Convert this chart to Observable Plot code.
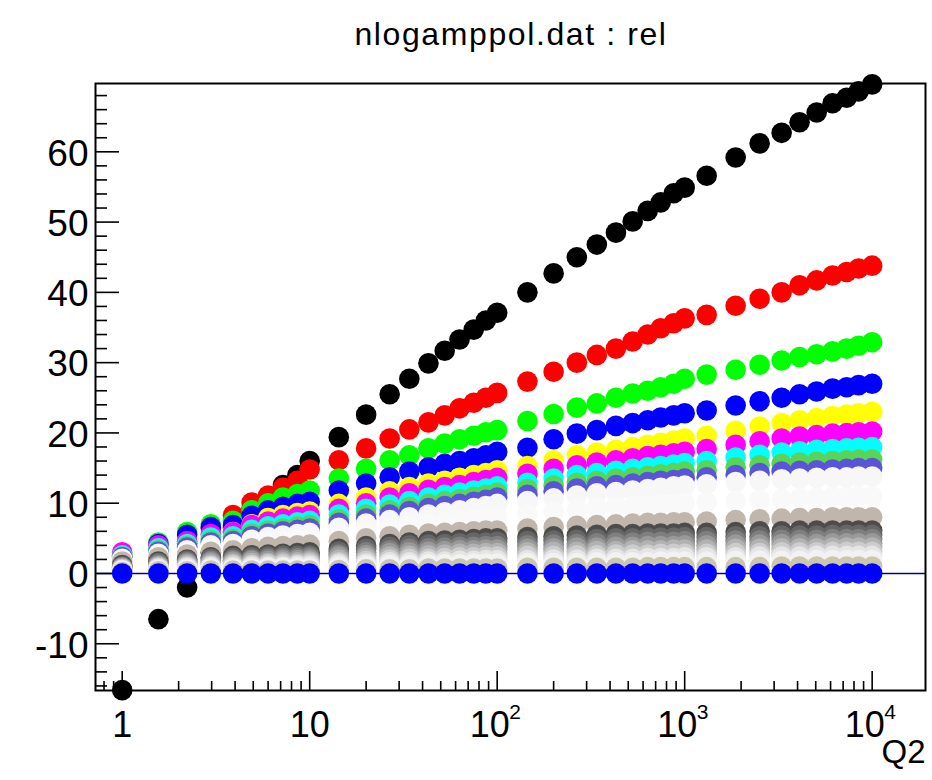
<!DOCTYPE html>
<html><head><meta charset="utf-8">
<script src="https://cdn.jsdelivr.net/npm/d3@7"></script>
<script src="https://cdn.jsdelivr.net/npm/@observablehq/plot@0.6"></script>
<style>
body{margin:0;background:#fff;font-family:"Liberation Sans",Arial,sans-serif;}
#wrap{position:relative;width:932px;height:780px;overflow:hidden;}
#title{position:absolute;left:511px;top:18px;transform:translateX(-50%);font-size:32px;letter-spacing:1.6px;line-height:32px;white-space:nowrap;color:#000;}
#chart{position:absolute;left:0;top:60px;}
</style>
</head><body>
<div id="wrap"><div id="title">nlogamppol.dat : rel</div><div id="chart"></div></div>
<script>
// Q2 grid
const q2 = [1, 1.56, 2.22, 2.97, 3.9, 4.9, 6.0, 7.2, 8.6, 10,
  14.3, 20, 26.7, 34, 43, 52.5, 63, 75, 87, 100,
  145, 200, 266, 340, 430, 528, 635, 745, 874, 1000,
  1310, 1870, 2510, 3290, 4100, 5060, 6150, 7310, 8470, 10000];

const sBlack = [-16.6,-6.5,-2.0,3.0,6.5,9.2,10.8,12.6,14.0,16.0,
  19.4,22.6,25.5,27.7,29.9,31.7,33.3,34.7,36.0,37.1,
  40.0,42.7,45.0,46.8,48.5,50.1,51.6,52.8,54.1,54.9,
  56.6,59.2,61.2,62.7,64.2,65.6,66.9,67.7,68.6,69.6];
const sRed = [0.5,2.5,4.3,6.4,8.3,10.1,11.1,12.2,13.2,14.8,
  16.1,17.8,19.2,20.5,21.5,22.5,23.5,24.3,25.0,25.7,
  27.3,28.7,30.0,31.1,32.0,33.0,34.0,34.9,35.6,36.3,
  36.8,38.1,39.1,40.0,41.0,41.7,42.4,42.9,43.4,43.8];
const sGreen = [2.6,4.4,5.9,7.0,7.5,9.0,10.0,10.8,11.3,11.8,
  13.5,14.9,16.1,16.8,17.8,18.5,19.1,19.6,20.1,20.4,
  21.7,22.7,23.6,24.2,25.0,25.6,26.0,26.5,27.0,27.7,
  28.3,29.0,29.7,30.3,30.8,31.2,31.6,32.0,32.4,32.9];
const sBlue = [2.5,4.2,5.5,6.6,6.9,8.2,9.0,9.5,9.9,10.2,
  11.8,12.8,13.7,14.5,15.1,15.6,16.0,16.4,16.8,17.3,
  17.9,19.1,19.9,20.4,21.0,21.4,21.8,22.2,22.5,22.8,
  23.2,23.9,24.5,25.0,25.5,25.9,26.3,26.5,26.8,27.0];
const sYellow = [2.6,3.8,4.5,5.5,5.9,7.0,7.9,8.3,8.6,8.8,
  9.9,10.8,11.7,12.3,12.8,13.2,13.6,14.0,14.3,14.7,
  15.3,16.1,16.8,17.2,17.6,18.0,18.3,18.6,18.9,19.2,
  19.6,20.3,20.9,21.4,21.8,22.1,22.4,22.6,22.8,23.0];
const sMagenta = [3.0,4.0,4.6,5.6,5.9,6.9,7.4,7.8,8.1,8.3,
  9.2,10.0,10.8,11.4,11.9,12.3,12.6,13.0,13.3,13.6,
  14.2,14.9,15.4,15.8,16.1,16.4,16.7,16.9,17.1,17.3,
  17.7,18.3,18.8,19.2,19.5,19.7,19.9,20.0,20.1,20.2];
const sCyan = [2.6,3.6,4.2,5.1,5.3,6.2,6.7,7.0,7.3,7.5,
  8.4,9.2,9.8,10.3,10.8,11.2,11.5,11.8,12.1,12.4,
  12.9,13.5,14.0,14.3,14.6,14.9,15.1,15.3,15.5,15.7,
  16.0,16.5,16.9,17.2,17.4,17.6,17.7,17.8,17.9,18.0];
const sDkGreen = [2.4,3.3,3.9,4.7,4.9,5.7,6.1,6.4,6.7,6.9,
  7.7,8.4,9.0,9.5,9.9,10.3,10.6,10.9,11.2,11.5,
  12.0,12.5,12.9,13.2,13.5,13.7,13.9,14.1,14.3,14.5,
  14.7,15.1,15.4,15.6,15.8,15.9,16.0,16.1,16.2,16.2];
const sViolet = [2.3,3.1,3.7,4.4,4.6,5.3,5.7,6.0,6.2,6.4,
  7.2,7.8,8.4,8.9,9.3,9.6,9.9,10.2,10.5,10.8,
  11.2,11.7,12.1,12.4,12.6,12.8,13.0,13.2,13.3,13.5,
  13.7,14.0,14.3,14.5,14.6,14.7,14.8,14.9,15.0,15.0];
const sWhite1 = [2.1,2.8,3.3,4.0,4.2,4.8,5.2,5.4,5.6,5.8,
  6.5,7.1,7.6,8.0,8.4,8.7,9.0,9.3,9.6,9.9,
  10.3,10.7,11.1,11.4,11.6,11.8,12.0,12.2,12.4,12.5,
  12.7,13.0,13.2,13.4,13.5,13.6,13.7,13.7,13.8,13.8];
const sWhite2 = [1.9,2.5,3.0,3.6,3.8,4.3,4.6,4.7,4.8,4.9,
  5.6,6.1,6.5,6.8,7.1,7.3,7.5,7.7,7.9,8.0,
  8.4,8.8,9.1,9.3,9.5,9.6,9.7,9.8,9.9,10.0,
  10.1,10.3,10.5,10.6,10.7,10.8,10.9,10.9,11.0,11.0];
const sTan = [1.7,2.3,2.7,3.1,3.3,3.6,3.8,3.9,4.0,4.1,
  4.6,5.0,5.3,5.5,5.7,5.8,5.9,6.0,6.1,6.1,
  6.4,6.6,6.8,6.9,7.0,7.1,7.2,7.2,7.3,7.3,
  7.4,7.6,7.7,7.8,7.9,7.9,8.0,8.0,8.0,8.0];
const sGray12 = [1.2,1.7,2.0,2.3,2.5,2.6,2.7,2.8,2.9,3.0,
  3.5,3.9,4.2,4.4,4.6,4.7,4.8,4.9,5.0,5.0,
  5.2,5.3,5.4,5.5,5.6,5.6,5.7,5.7,5.7,5.8,
  5.8,5.9,6.0,6.0,6.1,6.1,6.1,6.1,6.1,6.1];
const sGray13 = [1.0,1.5,1.8,2.1,2.2,2.3,2.4,2.5,2.5,2.6,
  3.1,3.5,3.8,4.0,4.1,4.2,4.3,4.4,4.4,4.5,
  4.6,4.7,4.8,4.9,5.0,5.0,5.1,5.1,5.1,5.2,
  5.2,5.3,5.3,5.4,5.4,5.4,5.5,5.5,5.5,5.5];
const sGray14 = [0.9,1.3,1.6,1.8,1.9,2.0,2.1,2.2,2.2,2.3,
  2.7,3.0,3.3,3.5,3.6,3.7,3.8,3.8,3.9,3.9,
  4.0,4.1,4.2,4.3,4.4,4.4,4.5,4.5,4.5,4.6,
  4.6,4.7,4.7,4.8,4.8,4.8,4.9,4.9,4.9,4.9];
const sGray15 = [0.8,1.1,1.4,1.6,1.7,1.8,1.8,1.9,1.9,2.0,
  2.4,2.6,2.9,3.0,3.1,3.2,3.3,3.3,3.4,3.4,
  3.5,3.6,3.7,3.7,3.8,3.8,3.9,3.9,3.9,4.0,
  4.0,4.1,4.1,4.2,4.2,4.2,4.3,4.3,4.3,4.3];
const sGray16 = [0.7,1.0,1.2,1.3,1.4,1.5,1.5,1.6,1.6,1.7,
  2.0,2.2,2.4,2.5,2.6,2.7,2.8,2.8,2.9,2.9,
  3.0,3.1,3.1,3.2,3.2,3.3,3.3,3.3,3.4,3.4,
  3.4,3.5,3.5,3.6,3.6,3.6,3.7,3.7,3.7,3.7];
const sGray17 = [0.6,0.8,1.0,1.1,1.2,1.2,1.3,1.3,1.3,1.4,
  1.6,1.8,2.0,2.1,2.1,2.2,2.3,2.3,2.4,2.4,
  2.5,2.5,2.6,2.6,2.7,2.7,2.7,2.8,2.8,2.8,
  2.8,2.9,2.9,3.0,3.0,3.0,3.1,3.1,3.1,3.1];
const sGray18 = [0.5,0.7,0.8,0.9,0.9,1.0,1.0,1.0,1.1,1.1,
  1.3,1.4,1.6,1.6,1.7,1.7,1.8,1.8,1.9,1.9,
  1.9,2.0,2.0,2.1,2.1,2.1,2.2,2.2,2.2,2.3,
  2.3,2.3,2.4,2.4,2.4,2.5,2.5,2.5,2.5,2.5];
const sGray19 = [0.4,0.5,0.6,0.7,0.7,0.7,0.8,0.8,0.8,0.8,
  1.0,1.1,1.2,1.2,1.3,1.3,1.3,1.4,1.4,1.4,
  1.5,1.5,1.5,1.6,1.6,1.6,1.6,1.7,1.7,1.7,
  1.7,1.8,1.8,1.8,1.8,1.9,1.9,1.9,1.9,1.9];
const sBeige = [0.2,0.3,0.3,0.4,0.4,0.4,0.4,0.4,0.4,0.4,
  0.5,0.6,0.6,0.6,0.7,0.7,0.7,0.7,0.7,0.7,
  0.8,0.8,0.8,0.8,0.8,0.8,0.9,0.9,0.9,0.9,
  0.9,0.9,0.9,1.0,1.0,1.0,1.0,1.0,1.0,1.0];
const sZero = [0,0,0,0,0,0,0,0,0,0,
  0,0,0,0,0,0,0,0,0,0,
  0,0,0,0,0,0,0,0,0,0,
  0,0,0,0,0,0,0,0,0,0];

const seriesValues = [sBlack, sRed, sGreen, sBlue, sYellow, sMagenta, sCyan, sDkGreen, sViolet,
  sWhite1, sWhite2, sTan, sGray12, sGray13, sGray14, sGray15, sGray16, sGray17, sGray18, sGray19, sBeige, sZero];
const seriesColors = ["#000000", "#ff0000", "#00ff00", "#0000ff", "#ffff00", "#ff00ff", "#00ffff", "#59d454", "#5954d9",
  "#f7f7f7", "#f9f9f9", "#c0b6ac", "#4c4c4c", "#666666", "#7f7f7f", "#999999", "#b2b2b2", "#cccccc", "#e5e5e5", "#f2f2f2", "#ccc7ab", "#0000ff"];

// axis ticks / labels
const yMajor = [-10, 0, 10, 20, 30, 40, 50, 60];
const yMinor = [-16, -14, -12, -8, -6, -4, -2, 2, 4, 6, 8, 12, 14, 16, 18, 22, 24, 26, 28, 32, 34, 36, 38, 42, 44, 46, 48, 52, 54, 56, 58, 62, 64, 66, 68];
const yLabels = ["-10", "0", "10", "20", "30", "40", "50", "60"];
const xMajor = [1, 10, 100, 1000, 10000];
const xMinor = [0.8, 0.9, 2, 3, 4, 5, 6, 7, 8, 9, 20, 30, 40, 50, 60, 70, 80, 90,
  200, 300, 400, 500, 600, 700, 800, 900, 2000, 3000, 4000, 5000, 6000, 7000, 8000, 9000];
const xPlain = [1, 10];
const xPlainLabels = ["1", "10"];
const xPow = [100, 1000, 10000];
const xPowBase = ["10", "10", "10"];
const xPowExp = ["2", "3", "4"];

const W = 932, H = 720, mL = 95, mR = 7, mT = 23, mB = 90;
const pw = W - mL - mR, ph = H - mT - mB;
const font = "Liberation Sans, Arial, sans-serif";
const idx = d3.range(q2.length);

const dotMarks = seriesValues.map((vals, k) =>
  Plot.dot(idx, {x: i => q2[i], y: i => vals[i], r: 10.3, fill: seriesColors[k], stroke: "none"}));

const chart = Plot.plot({
  width: W, height: H,
  marginLeft: mL, marginRight: mR, marginTop: mT, marginBottom: mB,
  x: {type: "log", domain: [0.7205, 19250], axis: null},
  y: {domain: [-16.65, 69.72], axis: null},
  style: {fontFamily: font, background: "white", overflow: "visible", color: "black"},
  marks: [
    Plot.ruleY([0], {stroke: "#0000a0", strokeWidth: 1.6}),
    Plot.tickY(yMajor, {y: d => d, insetRight: pw - 24, stroke: "black", strokeWidth: 1.6}),
    Plot.tickY(yMinor, {y: d => d, insetRight: pw - 12, stroke: "black", strokeWidth: 1.6}),
    Plot.tickX(xMajor, {x: d => d, insetTop: ph - 19, stroke: "black", strokeWidth: 1.6}),
    Plot.tickX(xMinor, {x: d => d, insetTop: ph - 9, stroke: "black", strokeWidth: 1.6}),
    Plot.frame({stroke: "black", strokeWidth: 2}),
    ...dotMarks,
    Plot.text(yMajor, {y: d => d, text: (d, i) => yLabels[i], frameAnchor: "left", textAnchor: "end", dx: -7, dy: 2, fontSize: 37, fill: "black", lineAnchor: "middle"}),
    Plot.text(xPlain, {x: d => d, text: (d, i) => xPlainLabels[i], frameAnchor: "bottom", dy: 34.5, fontSize: 36, fill: "black", lineAnchor: "middle"}),
    Plot.text(xPow, {x: d => d, text: (d, i) => xPowBase[i], frameAnchor: "bottom", dx: -7.5, dy: 34.5, fontSize: 36, fill: "black", lineAnchor: "middle"}),
    Plot.text(xPow, {x: d => d, text: (d, i) => xPowExp[i], frameAnchor: "bottom", dx: 18, dy: 21.5, fontSize: 21, fill: "black", lineAnchor: "middle"}),
    Plot.text(["Q2"], {text: d => d, frameAnchor: "bottom-right", textAnchor: "end", dy: 61.5, fontSize: 33, fill: "black", lineAnchor: "middle"})
  ]
});
document.getElementById("chart").appendChild(chart);
</script>
</body></html>
